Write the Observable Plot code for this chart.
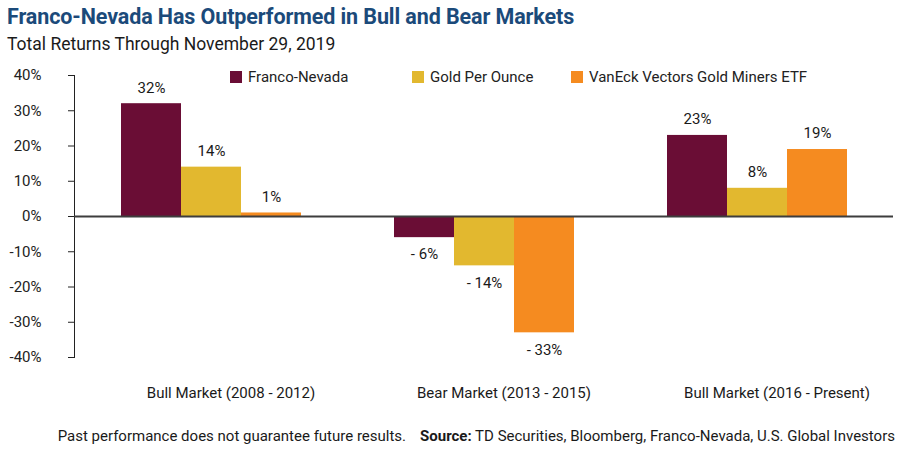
<!DOCTYPE html>
<html>
<head>
<meta charset="utf-8">
<script src="https://cdn.jsdelivr.net/npm/d3@7"></script>
<script src="https://cdn.jsdelivr.net/npm/@observablehq/plot@0.6"></script>
<style>
  html, body { margin: 0; padding: 0; background: #fff; }
  body { width: 900px; height: 449px; position: relative; overflow: hidden;
         font-family: "Roboto", "Liberation Sans", sans-serif; color: #222; }
  #title { position: absolute; left: 7px; top: 4px; font-size: 21.5px; font-weight: bold; color: #1b4a7a; white-space: nowrap; letter-spacing: -0.1px; }
  #subtitle { position: absolute; left: 7px; top: 34px; font-size: 17.5px; color: #1a1a1a; white-space: nowrap; }
  #chart { position: absolute; left: 0; top: 60px; }
  #legend { position: absolute; top: 68px; left: 0; width: 900px; height: 18px; font-size: 15px; color: #222; }
  .item { position: absolute; display: flex; align-items: center; white-space: nowrap; }
  .sw { width: 12px; height: 12px; margin-right: 6px; display: inline-block; }
  #footer { position: absolute; right: 5px; top: 427px; font-size: 15px; color: #1a1a1a; white-space: nowrap; }
  #footer b { margin-left: 14px; }
  #chart svg [aria-label="y-axis tick"], #chart svg [aria-label="frame"] { stroke: #222; }
</style>
</head>
<body>
<div id="title">Franco-Nevada Has Outperformed in Bull and Bear Markets</div>
<div id="subtitle">Total Returns Through November 29, 2019</div>
<div id="chart"></div>
<div id="legend"></div>
<div id="footer">Past performance does not guarantee future results.<b>Source:</b> TD Securities, Bloomberg, Franco-Nevada, U.S. Global Investors</div>
<script>
const categories = ["Bull Market (2008 - 2012)", "Bear Market (2013 - 2015)", "Bull Market (2016 - Present)"];
const seriesNames = ["Franco-Nevada", "Gold Per Ounce", "VanEck Vectors Gold Miners ETF"];
const francoNevada = [32, -6, 23];
const goldPerOunce = [14, -14, 8];
const vanEckMiners = [1, -33, 19];
const seriesColors = ["#6a0d35", "#e2b82f", "#f58b20"];
const yTicks = [-40, -30, -20, -10, 0, 10, 20, 30, 40];
const legendLeft = [230, 412, 571];

const seriesValues = [francoNevada, goldPerOunce, vanEckMiners];
const data = categories.flatMap((c, i) =>
  seriesNames.map((s, j) => ({category: c, series: s, value: seriesValues[j][i]}))
);

const pct = d => d.value < 0 ? `- ${Math.abs(d.value)}%` : `${d.value}%`;

const chart = Plot.plot({
  width: 900,
  height: 350,
  marginLeft: 73,
  marginRight: 6,
  marginTop: 15,
  marginBottom: 53,
  style: {fontSize: "15px", fontFamily: "Roboto, 'Liberation Sans', sans-serif", color: "#222"},
  fx: {domain: categories, padding: 0, label: null},
  x: {domain: seriesNames, paddingInner: 0, paddingOuter: 0.744, axis: null},
  y: {domain: [-40, 40], ticks: yTicks, tickFormat: d => `${d}%`, tickSize: 6, tickPadding: 27, line: true, label: null},
  color: {domain: seriesNames, range: seriesColors},
  marks: [
    Plot.barY(data, {fx: "category", x: "series", y: "value", fill: "series"}),
    Plot.ruleY([0], {stroke: "#3d3d3d", strokeWidth: 2}),
    Plot.text(data.filter(d => d.value >= 0), {fx: "category", x: "series", y: "value", text: pct, dy: -16, fill: "#1a1a1a"}),
    Plot.text(data.filter(d => d.value < 0), {fx: "category", x: "series", y: "value", text: pct, dy: 17, fill: "#1a1a1a"}),
    Plot.axisFx({anchor: "bottom", tickSize: 0, tickPadding: 30, dx: 20, label: null, fill: "#1a1a1a"})
  ]
});
document.getElementById("chart").appendChild(chart);

const legend = document.getElementById("legend");
seriesNames.forEach((s, i) => {
  const item = document.createElement("div");
  item.className = "item";
  item.style.left = legendLeft[i] + "px";
  const sw = document.createElement("span");
  sw.className = "sw";
  sw.style.background = seriesColors[i];
  item.appendChild(sw);
  item.appendChild(document.createTextNode(s));
  legend.appendChild(item);
});
</script>
</body>
</html>
